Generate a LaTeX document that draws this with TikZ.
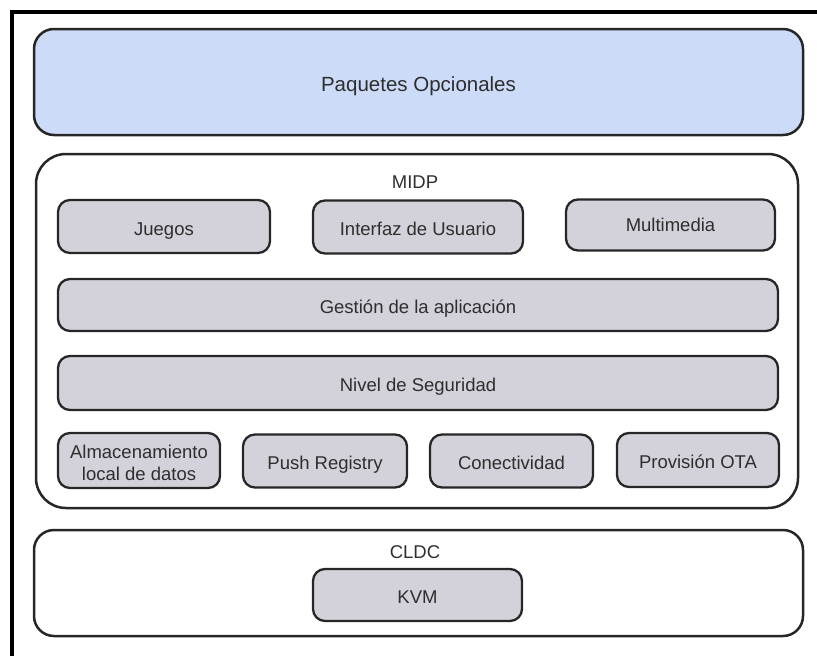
\documentclass[tikz,border=0pt]{standalone}
\usepackage{fontspec}
\setmainfont{Liberation Sans}
\definecolor{azulcapa}{HTML}{CCDCF8}
\definecolor{grismodulo}{HTML}{D3D1D9}
\definecolor{borde}{HTML}{262626}
\definecolor{texto}{HTML}{2E2E2E}
\tikzset{
  capa/.style={draw=borde,line width=2.5pt,rounded corners=20pt,inner sep=0pt},
  modulo/.style={draw=borde,line width=2.3pt,fill=grismodulo,rounded corners=12pt,
    inner sep=0pt,align=center,text=texto,font=\fontsize{18.5}{21.5}\selectfont},
  unalinea/.style={text height=17pt,text depth=0pt},
  rotulo/.style={text=texto,font=\fontsize{18.5}{21.5}\selectfont,inner sep=0pt}
}
\begin{document}
\begin{tikzpicture}[x=1pt,y=-1pt]
\useasboundingbox (0,0) rectangle (817,656);
\draw[line width=3.5pt] (817,12) -- (12,12) -- (12,656);
\node[capa,fill=azulcapa,minimum width=769pt,minimum height=106pt,text=texto,
  font=\fontsize{20.5}{24}\selectfont,text height=18.6pt,text depth=0pt] (paquetes) at (418.5,82) {Paquetes Opcionales};
\node[capa,rounded corners=30pt,minimum width=762pt,minimum height=354pt] (midp) at (417,331) {};
\node[rotulo] (midptit) at (415,182) {MIDP};
\node[modulo,unalinea,minimum width=212pt,minimum height=53pt] (juegos) at (164,226.5) {Juegos};
\node[modulo,unalinea,minimum width=210pt,minimum height=53pt] (interfaz) at (418,227) {Interfaz de Usuario};
\node[modulo,unalinea,minimum width=209pt,minimum height=51pt] (multimedia) at (670.5,225) {\raisebox{2pt}{Multimedia}};
\node[modulo,unalinea,minimum width=720pt,minimum height=52pt] (gestion) at (418,305) {Gestión de la aplicación};
\node[modulo,unalinea,minimum width=720pt,minimum height=54pt] (nivel) at (418,383) {Nivel de Seguridad};
\node[modulo,minimum width=162pt,minimum height=55pt] (almacen) at (139,460.5)
  {\raisebox{-9pt}[0pt][0pt]{\begin{tabular}{@{}c@{}}Almacenamiento\\local de datos\end{tabular}}};
\node[modulo,unalinea,minimum width=164pt,minimum height=53pt] (push) at (325,461) {Push Registry};
\node[modulo,unalinea,minimum width=163pt,minimum height=53pt] (conect) at (511.5,461) {Conectividad};
\node[modulo,unalinea,minimum width=162pt,minimum height=54pt] (ota) at (698,460) {Provisión OTA};
\node[capa,minimum width=769pt,minimum height=106pt] (cldc) at (418.5,583) {};
\node[rotulo] (cldctit) at (415,552) {CLDC};
\node[modulo,unalinea,minimum width=209pt,minimum height=52pt] (kvm) at (417.5,595) {KVM};
\end{tikzpicture}
\end{document}
